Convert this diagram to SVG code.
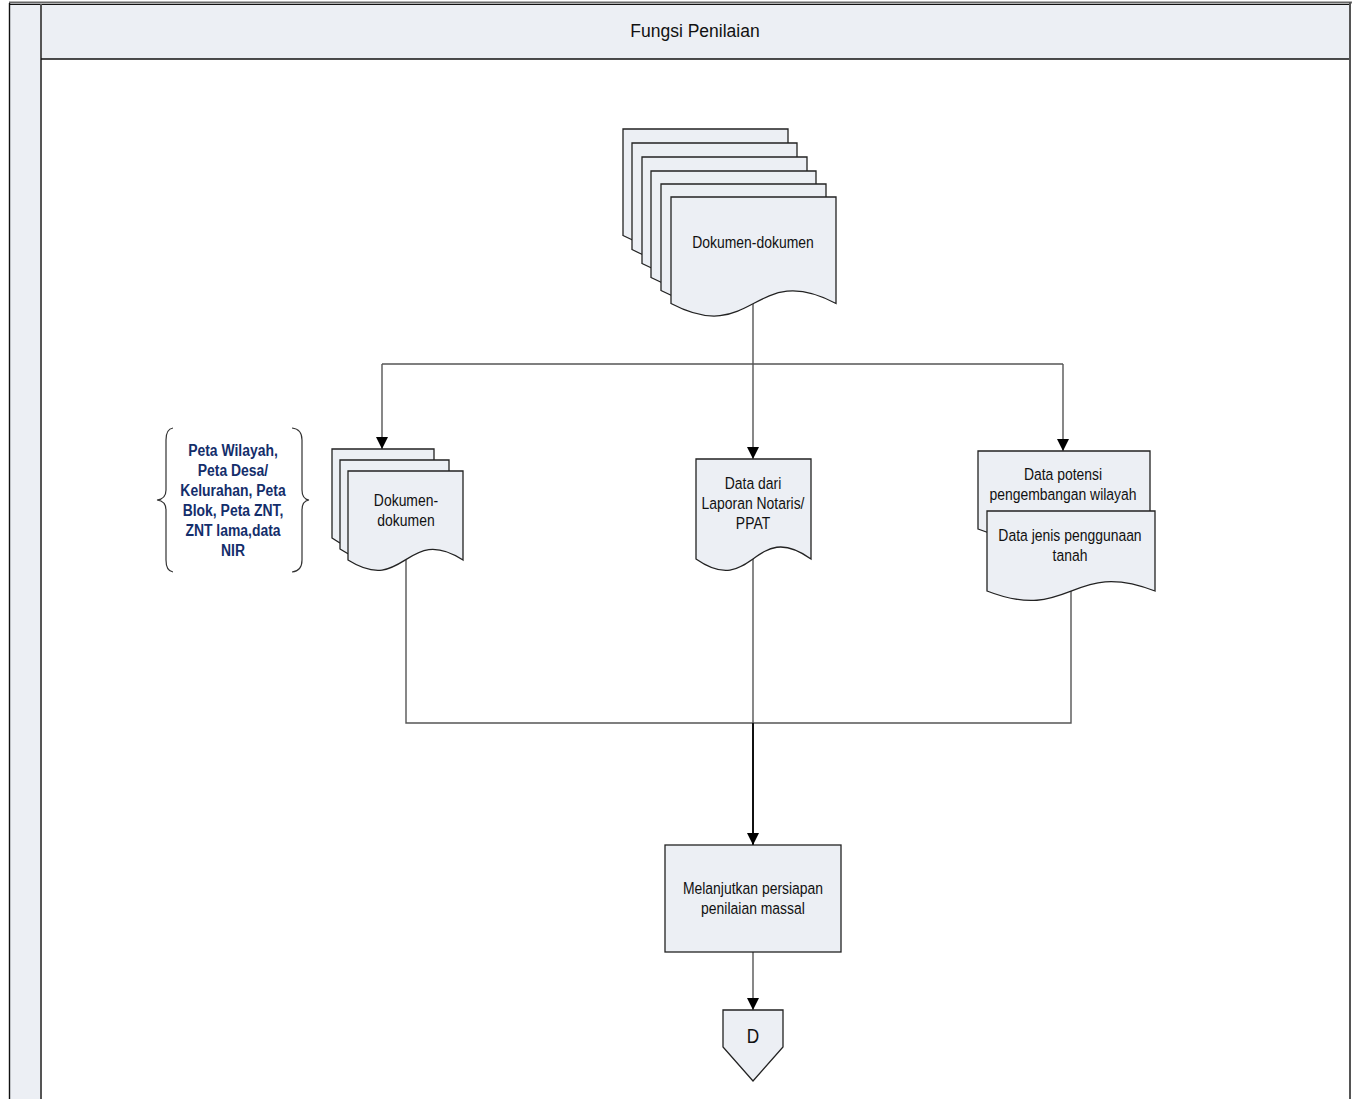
<svg xmlns="http://www.w3.org/2000/svg" width="1357" height="1099" viewBox="0 0 1357 1099">
  <style>
    .lane { fill: #eceff4; }
    .doc { fill: #eceff4; stroke: #222; stroke-width: 1.3; }
    .proc { fill: #eceff4; stroke: #222; stroke-width: 1.3; }
    .lbl { font-family: "Liberation Sans", Arial, sans-serif; font-size: 17px; fill: #111; text-anchor: middle; dominant-baseline: central; }
    .title { font-family: "Liberation Sans", Arial, sans-serif; font-size: 17.5px; fill: #111; text-anchor: middle; dominant-baseline: central; }
    .note { font-family: "Liberation Sans", Arial, sans-serif; font-size: 17px; font-weight: bold; fill: #142e6b; text-anchor: middle; dominant-baseline: central; }
    .wire { fill: none; stroke: #555; stroke-width: 1.4; }
    .wire-main { fill: none; stroke: #111; stroke-width: 2; }
    .brace { fill: none; stroke: #333; stroke-width: 1.2; }
  </style>
  <defs>
    <marker id="arrow" markerUnits="userSpaceOnUse" markerWidth="12" markerHeight="14" refX="12" refY="6" orient="auto">
      <path d="M0,0 L12,6 L0,12 Z" fill="#000"/>
    </marker>
  </defs>

  <rect width="1357" height="1099" fill="#fff"/>

  <!-- swimlane frame -->
  <g id="lane">
    <rect class="lane" x="9" y="3" width="32" height="1096"/>
    <rect class="lane" x="41" y="4" width="1309" height="55"/>
    <line x1="9" y1="2.5" x2="1352" y2="2.5" stroke="#666" stroke-width="2"/>
    <line x1="9" y1="4.5" x2="1351" y2="4.5" stroke="#111" stroke-width="1.2"/>
    <line x1="9.5" y1="3" x2="9.5" y2="1099" stroke="#111" stroke-width="1.4"/>
    <line x1="41" y1="4" x2="41" y2="1099" stroke="#555" stroke-width="2"/>
    <line x1="41" y1="59" x2="1350" y2="59" stroke="#111" stroke-width="1.4"/>
    <line x1="1350" y1="2" x2="1350" y2="1099" stroke="#555" stroke-width="2"/>
    <text class="title" x="695" y="31">Fungsi Penilaian</text>
  </g>

  <!-- connectors -->
  <g id="connectors">
    <path class="wire" d="M753,304 V459" marker-end="url(#arrow)"/>
    <path class="wire" d="M382,364 H1063"/>
    <path class="wire" d="M382,364 V449" marker-end="url(#arrow)"/>
    <path class="wire" d="M1063,364 V451" marker-end="url(#arrow)"/>
    <path class="wire" d="M406,560 V723 H1071 V591"/>
    <path class="wire" d="M753,558 V723"/>
    <path class="wire-main" d="M753,723 V845" marker-end="url(#arrow)"/>
    <path class="wire" d="M753,952 V1010" marker-end="url(#arrow)"/>
  </g>

  <!-- stacked source documents -->
  <g id="dokumen-stack">
    <g transform="translate(623,129)"><path class="doc" d="M0,0 H165 V106.5 C82.5,62.9 82.5,150 0,106.5 Z"/></g>
    <g transform="translate(632,143)"><path class="doc" d="M0,0 H165 V106.5 C82.5,62.9 82.5,150 0,106.5 Z"/></g>
    <g transform="translate(642,157)"><path class="doc" d="M0,0 H165 V106.5 C82.5,62.9 82.5,150 0,106.5 Z"/></g>
    <g transform="translate(651,171)"><path class="doc" d="M0,0 H165 V106.5 C82.5,62.9 82.5,150 0,106.5 Z"/></g>
    <g transform="translate(661,184)"><path class="doc" d="M0,0 H165 V106.5 C82.5,62.9 82.5,150 0,106.5 Z"/></g>
    <g transform="translate(671,197)"><path class="doc" d="M0,0 H165 V106.5 C82.5,62.9 82.5,150 0,106.5 Z"/></g>
    <!-- condensed label: horizontal squeeze about the centre x -->
    <g transform="matrix(0.82 0 0 1 135.54 0)">
      <text class="lbl" x="753" y="242">Dokumen-dokumen</text>
    </g>
  </g>

  <!-- map documents stack -->
  <g id="dokumen-peta">
    <g transform="translate(332,449)"><path class="doc" d="M0,0 H102 V89 C51,52.5 51,125 0,89 Z"/></g>
    <g transform="translate(340,460)"><path class="doc" d="M0,0 H109 V89 C54.5,52.5 54.5,125 0,89 Z"/></g>
    <g transform="translate(348,471)"><path class="doc" d="M0,0 H115 V89 C57.5,52.5 57.5,125 0,89 Z"/></g>
    <g transform="matrix(0.82 0 0 1 73.08 0)">
      <text class="lbl" x="406" y="500">Dokumen-</text>
      <text class="lbl" x="406" y="520">dokumen</text>
    </g>
  </g>

  <!-- note brace -->
  <g id="catatan-peta">
    <path class="brace" d="M173,428 Q166,429 166,440 V490 Q166,499 157,500 Q166,501 166,510 V560 Q166,571 173,572"/>
    <path class="brace" d="M292,428 Q302,429 302,440 V490 Q302,499 309,500 Q302,501 302,510 V560 Q302,571 292,572"/>
    <g transform="matrix(0.82 0 0 1 41.94 0)">
      <text class="note" x="233" y="450">Peta Wilayah,</text>
      <text class="note" x="233" y="470">Peta Desa/</text>
      <text class="note" x="233" y="490">Kelurahan, Peta</text>
      <text class="note" x="233" y="510">Blok, Peta ZNT,</text>
      <text class="note" x="233" y="530">ZNT lama,data</text>
      <text class="note" x="233" y="550">NIR</text>
    </g>
  </g>

  <!-- notary report document -->
  <g id="laporan-notaris">
    <path class="doc" transform="translate(696,459)" d="M0,0 H115 V100 C57.5,58.8 57.5,140 0,100 Z"/>
    <g transform="matrix(0.82 0 0 1 135.54 0)">
      <text class="lbl" x="753" y="483">Data dari</text>
      <text class="lbl" x="753" y="503">Laporan Notaris/</text>
      <text class="lbl" x="753" y="523">PPAT</text>
    </g>
  </g>

  <!-- regional potential and land use documents -->
  <g id="data-potensi">
    <path class="doc" transform="translate(978,451)" d="M0,0 H172 V78 C86,46.8 86,111.6 0,78 Z"/>
    <g transform="matrix(0.82 0 0 1 191.34 0)">
      <text class="lbl" x="1063" y="474">Data potensi</text>
      <text class="lbl" x="1063" y="494">pengembangan wilayah</text>
    </g>
  </g>
  <g id="data-penggunaan-tanah">
    <path class="doc" transform="translate(987,511)" d="M0,0 H168 V80 C84,47.3 84,112.8 0,80 Z"/>
    <g transform="matrix(0.82 0 0 1 192.6 0)">
      <text class="lbl" x="1070" y="535">Data jenis penggunaan</text>
      <text class="lbl" x="1070" y="555">tanah</text>
    </g>
  </g>

  <!-- process -->
  <g id="persiapan-penilaian">
    <rect class="proc" x="665" y="845" width="176" height="107"/>
    <g transform="matrix(0.82 0 0 1 135.54 0)">
      <text class="lbl" x="753" y="888">Melanjutkan persiapan</text>
      <text class="lbl" x="753" y="908">penilaian massal</text>
    </g>
  </g>

  <!-- off-page connector -->
  <g id="offpage-d">
    <path class="proc" d="M723,1010 H783 V1047 L753,1081 L723,1047 Z"/>
    <g transform="matrix(0.82 0 0 1 135.54 0)">
      <text class="lbl" x="753" y="1036" style="font-size:21px">D</text>
    </g>
  </g>
</svg>
